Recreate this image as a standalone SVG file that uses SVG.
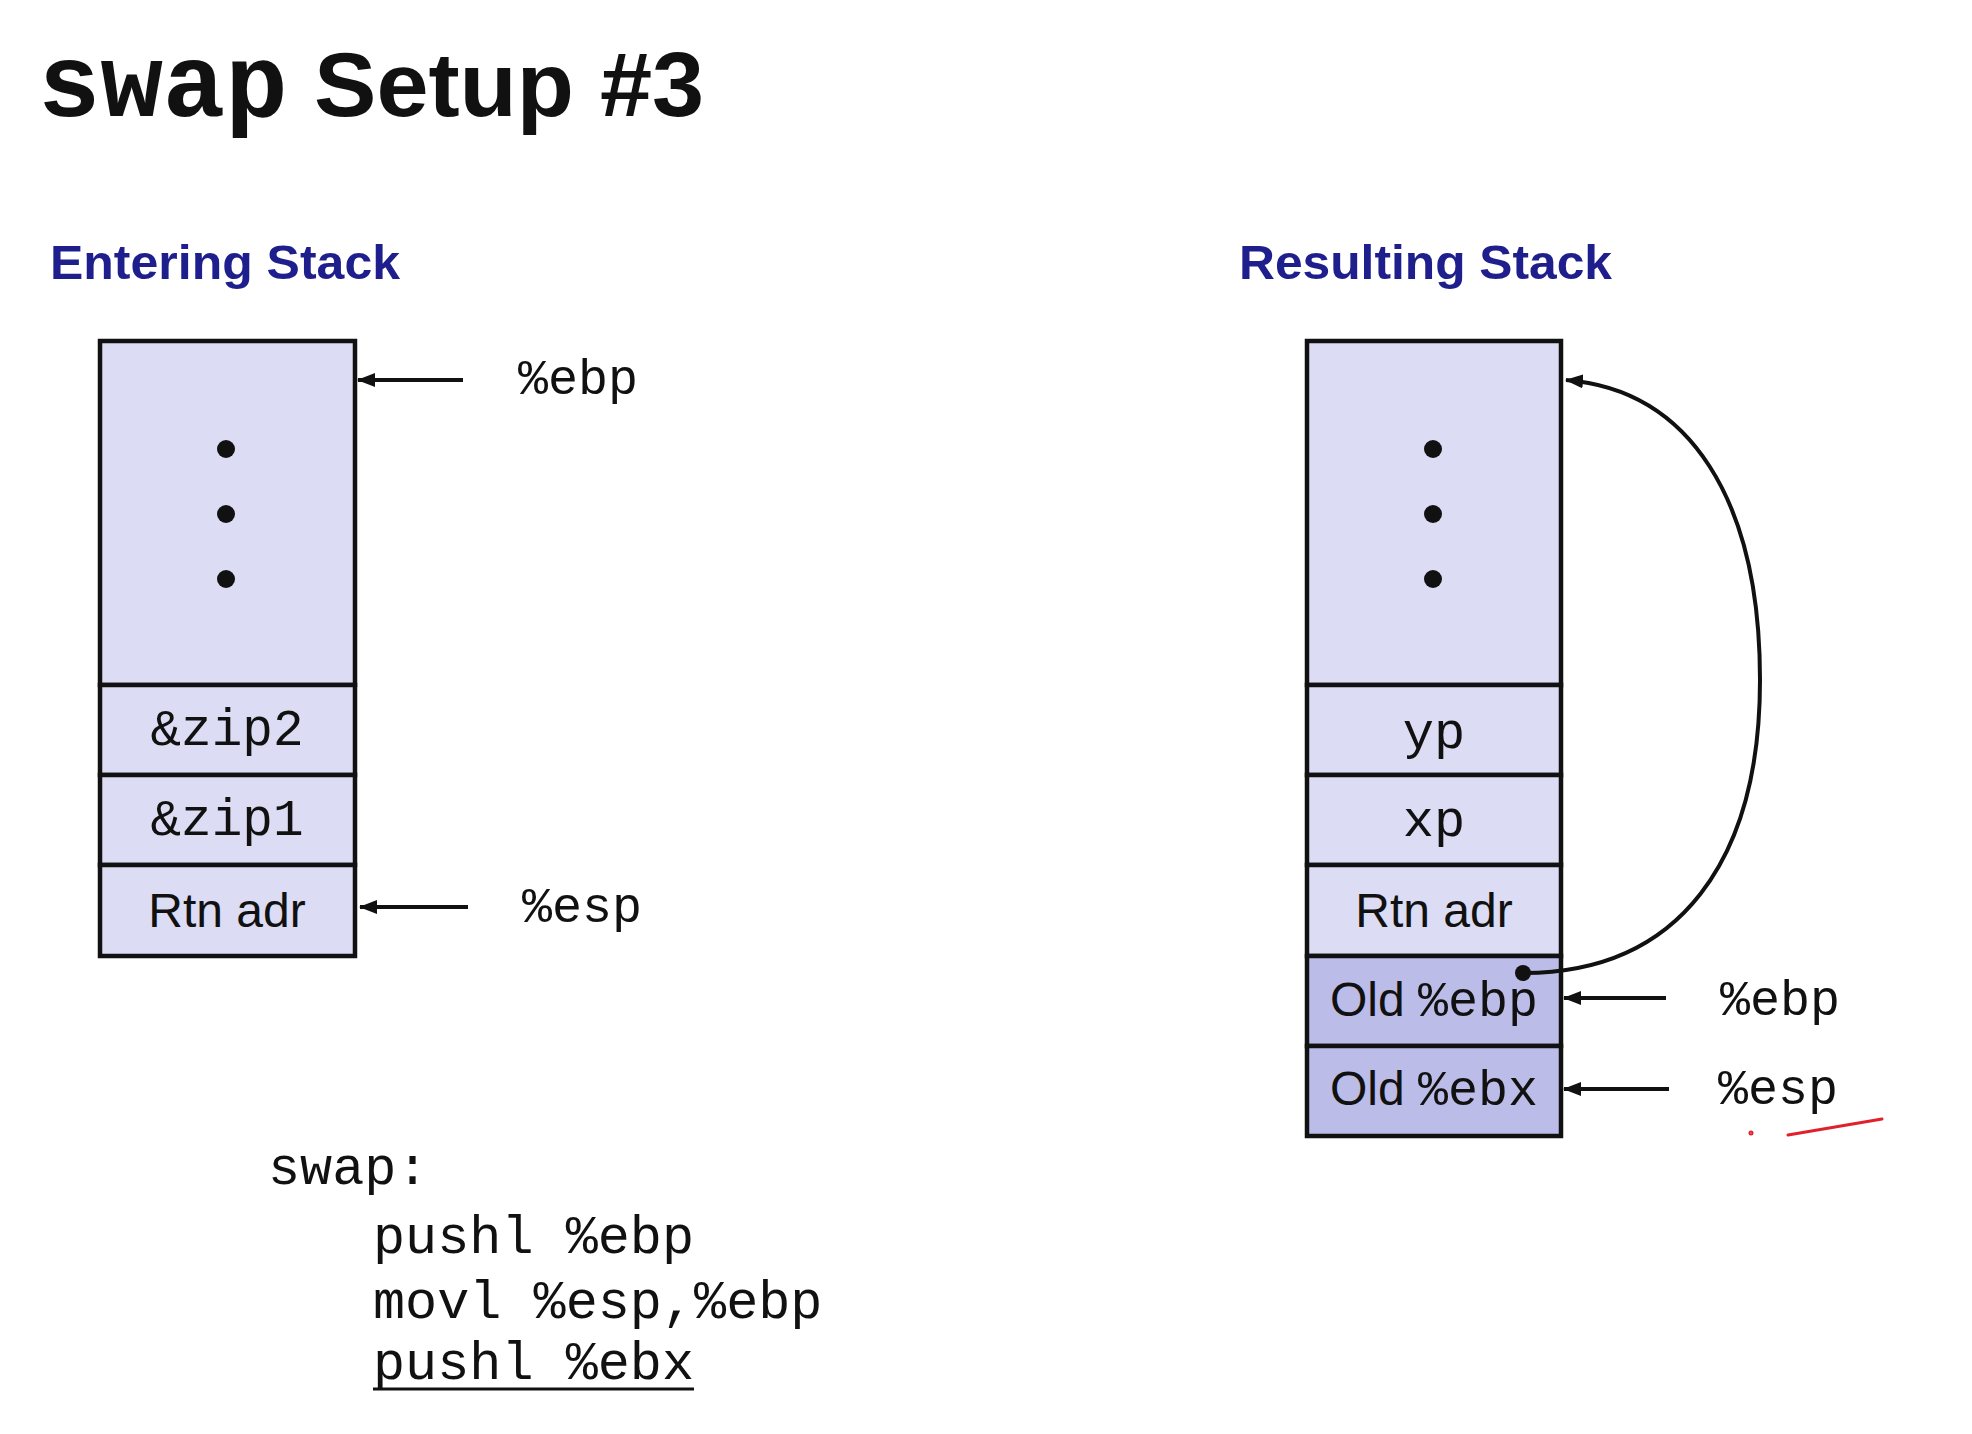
<svg xmlns="http://www.w3.org/2000/svg" width="1972" height="1434" viewBox="0 0 1972 1434">
  <style>
    .heading { font-family: "Liberation Sans", Arial, sans-serif; font-weight: bold; font-size: 48px; fill: #1e1e8c; }
    .cell { stroke: #111; stroke-width: 4.5; }
    .light { fill: #dcdcf4; }
    .dark { fill: #bcbce8; }
    .mono { font-family: "Liberation Mono", "Courier New", monospace; fill: #111; }
    .sans { font-family: "Liberation Sans", Arial, sans-serif; fill: #111; }
    .lbl { font-size: 50px; }
    .ctr { text-anchor: middle; }
    .ptr { stroke: #111; stroke-width: 4; fill: none; }
  </style>
  <defs>
    <marker id="arrow" markerUnits="userSpaceOnUse" markerWidth="18" markerHeight="14" refX="17" refY="7" orient="auto">
      <path d="M0,0 L18,7 L0,14 Z" fill="#111"/>
    </marker>
  </defs>

  <rect width="1972" height="1434" fill="#fff"/>

  <!-- Title -->
  <g id="title">
    <text x="38" y="116" font-family="'Liberation Mono', 'Courier New', monospace" font-weight="bold" font-size="104" fill="#111">swap</text>
    <text x="314" y="116" font-family="'Liberation Sans', Arial, sans-serif" font-weight="bold" font-size="90" fill="#111" textLength="390" lengthAdjust="spacingAndGlyphs">Setup #3</text>
  </g>

  <!-- Entering stack -->
  <g id="entering-stack">
    <text class="heading" x="50" y="279" textLength="350" lengthAdjust="spacingAndGlyphs">Entering Stack</text>
    <rect class="cell light" x="100" y="341" width="255" height="344"/>
    <circle cx="226" cy="449" r="9" fill="#111"/>
    <circle cx="226" cy="514" r="9" fill="#111"/>
    <circle cx="226" cy="579" r="9" fill="#111"/>
    <rect class="cell light" x="100" y="685" width="255" height="90"/>
    <text class="mono ctr" x="227" y="745" font-size="51">&amp;zip2</text>
    <rect class="cell light" x="100" y="775" width="255" height="90"/>
    <text class="mono ctr" x="227" y="835" font-size="51">&amp;zip1</text>
    <rect class="cell light" x="100" y="865" width="255" height="91"/>
    <text class="sans ctr" x="227" y="927" font-size="48">Rtn adr</text>
  </g>

  <!-- Resulting stack -->
  <g id="resulting-stack">
    <text class="heading" x="1239" y="279" textLength="373" lengthAdjust="spacingAndGlyphs">Resulting Stack</text>
    <rect class="cell light" x="1307" y="341" width="254" height="344"/>
    <circle cx="1433" cy="449" r="9" fill="#111"/>
    <circle cx="1433" cy="514" r="9" fill="#111"/>
    <circle cx="1433" cy="579" r="9" fill="#111"/>
    <rect class="cell light" x="1307" y="685" width="254" height="90"/>
    <text class="mono ctr" x="1434" y="748" font-size="52">yp</text>
    <rect class="cell light" x="1307" y="775" width="254" height="90"/>
    <text class="mono ctr" x="1434" y="836" font-size="52">xp</text>
    <rect class="cell light" x="1307" y="865" width="254" height="91"/>
    <text class="sans ctr" x="1434" y="927" font-size="48">Rtn adr</text>
    <rect class="cell dark" x="1307" y="956" width="254" height="90"/>
    <text class="ctr" x="1434" y="1016"><tspan class="sans" font-size="48">Old </tspan><tspan class="mono" font-size="50">%ebp</tspan></text>
    <rect class="cell dark" x="1307" y="1046" width="254" height="90"/>
    <text class="ctr" x="1434" y="1105"><tspan class="sans" font-size="48">Old </tspan><tspan class="mono" font-size="50">%ebx</tspan></text>
  </g>

  <!-- Register labels -->
  <g id="registers">
    <text class="mono lbl" x="518" y="394">%ebp</text>
    <text class="mono lbl" x="522" y="922">%esp</text>
    <text class="mono lbl" x="1720" y="1015">%ebp</text>
    <text class="mono lbl" x="1718" y="1104">%esp</text>
  </g>

  <!-- Pointer connectors -->
  <g id="connectors">
    <line class="ptr" x1="463" y1="380" x2="358" y2="380" marker-end="url(#arrow)"/>
    <line class="ptr" x1="468" y1="907" x2="360" y2="907" marker-end="url(#arrow)"/>
    <line class="ptr" x1="1666" y1="998" x2="1564" y2="998" marker-end="url(#arrow)"/>
    <line class="ptr" x1="1669" y1="1089" x2="1564" y2="1089" marker-end="url(#arrow)"/>
    <circle cx="1523" cy="973" r="8" fill="#111"/>
    <path class="ptr" d="M1523,973 C1680,973 1760,860 1760,680 C1760,500 1690,390 1566,380" marker-end="url(#arrow)"/>
  </g>

  <!-- Code listing -->
  <g id="code" class="mono" font-size="53.5">
    <text x="268" y="1184">swap:</text>
    <text x="373" y="1253">pushl %ebp</text>
    <text x="373" y="1318">movl %esp,%ebp</text>
    <text x="373" y="1379">pushl %ebx</text>
    <line x1="373" y1="1389" x2="694" y2="1389" stroke="#111" stroke-width="3"/>
  </g>

  <!-- Pen marks -->
  <g id="pen-marks" stroke="#e0202a" stroke-linecap="round" fill="none">
    <line x1="1788" y1="1135" x2="1882" y2="1119" stroke-width="3"/>
    <circle cx="1751" cy="1133" r="1.5" stroke-width="2"/>
  </g>
</svg>
